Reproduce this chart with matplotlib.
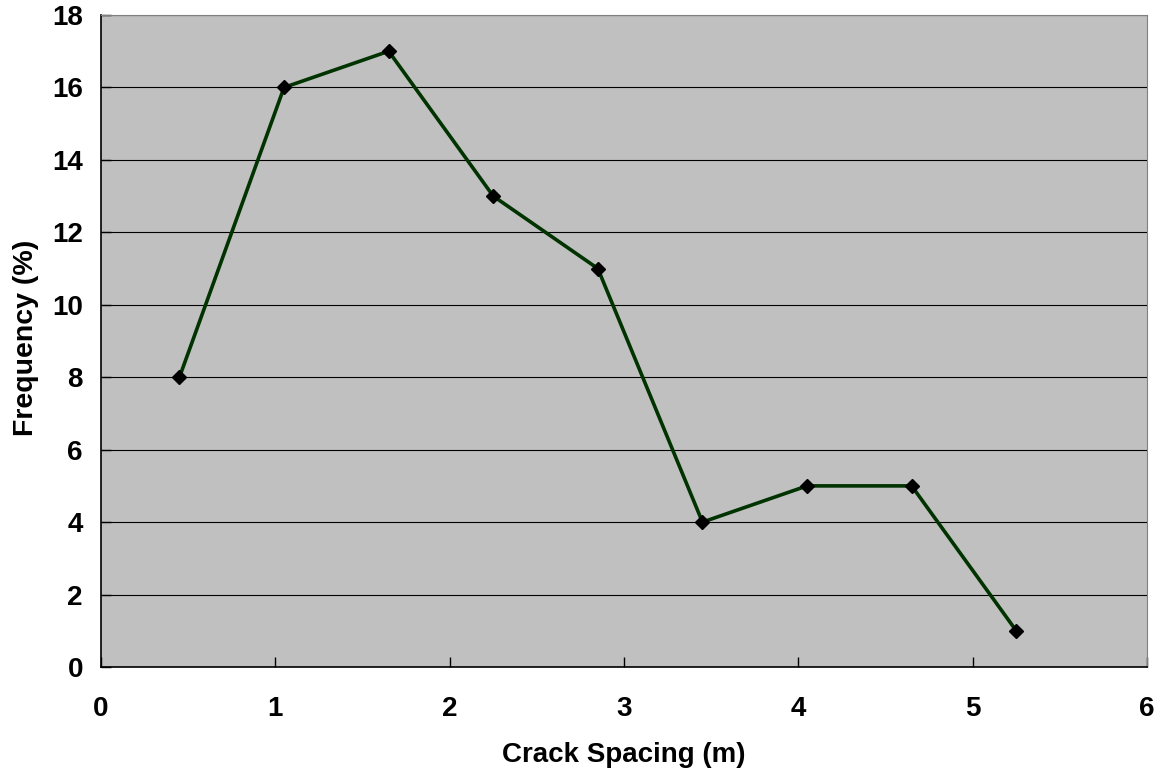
import matplotlib.pyplot as plt

spacing = [0.45, 1.05, 1.65, 2.25, 2.85, 3.45, 4.05, 4.65, 5.25]
frequency = [8, 16, 17, 13, 11, 4, 5, 5, 1]
x_ticks = [0, 1, 2, 3, 4, 5, 6]
y_ticks = [0, 2, 4, 6, 8, 10, 12, 14, 16, 18]

plt.rcParams['font.family'] = ['Liberation Sans', 'DejaVu Sans']

fig = plt.figure(figsize=(11.68, 7.74), dpi=100)
ax = fig.add_axes([101 / 1168, 1 - 667 / 774, 1046 / 1168, 652 / 774])
ax.set_facecolor('#c0c0c0')

ax.plot(spacing, frequency, color='#003300', linewidth=2.6, zorder=3)
ax.plot(spacing, frequency, linestyle='none', marker='D', markersize=7,
        color='black', zorder=4)

ax.set_xlim(0, 6)
ax.set_ylim(0, 18)
ax.set_xticks(x_ticks)
ax.set_yticks(y_ticks)
ax.yaxis.grid(True, color='black', linewidth=0.8)
ax.set_axisbelow(True)

ax.tick_params(axis='both', direction='in', length=7, width=1, labelsize=20)
ax.tick_params(axis='x', pad=21)
ax.tick_params(axis='y', pad=13)
for lbl in ax.get_xticklabels() + ax.get_yticklabels():
    lbl.set_fontweight('bold')

for side in ('top', 'right'):
    ax.spines[side].set_color('#808080')
for side in ('left', 'bottom'):
    ax.spines[side].set_color('black')
    ax.spines[side].set_linewidth(1.2)

ax.set_xlabel('Crack Spacing (m)', fontsize=20, fontweight='bold', labelpad=14)
ax.set_ylabel('Frequency (%)', fontsize=20.5, fontweight='bold')
ax.yaxis.set_label_coords(-0.059, 0.505)

fig.savefig('out.png', dpi=100)
